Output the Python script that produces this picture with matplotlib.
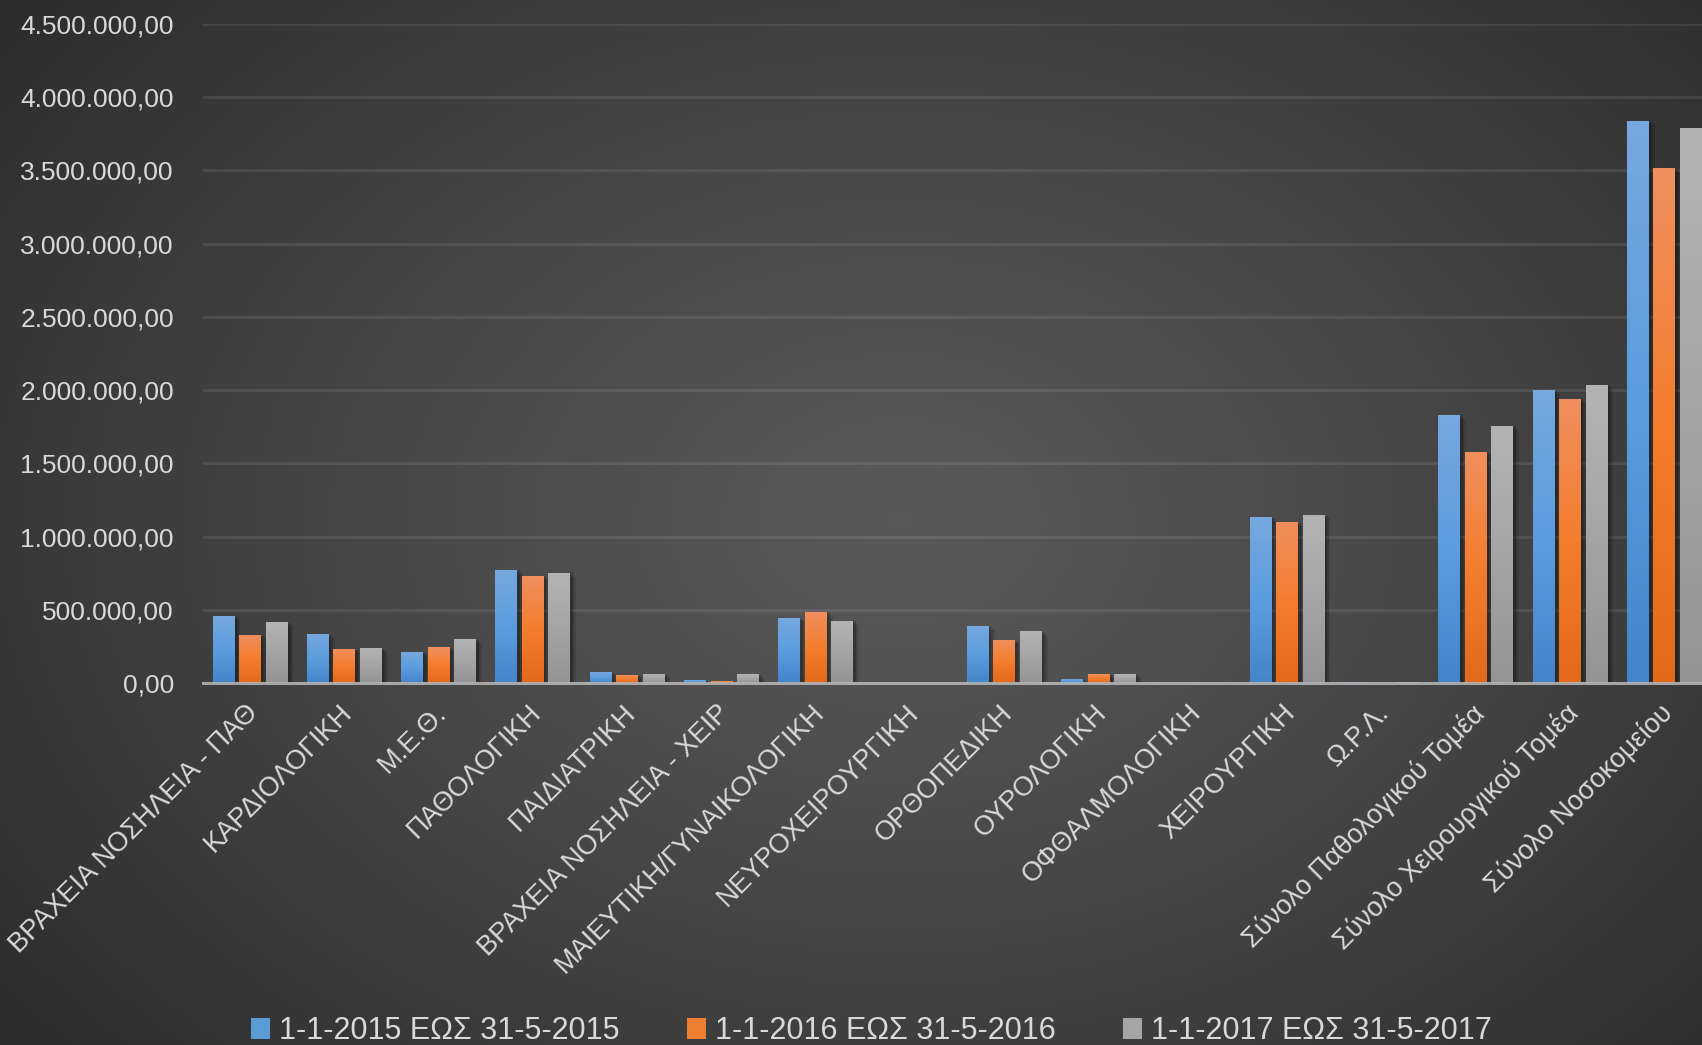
import numpy as np
import matplotlib
matplotlib.use("Agg")
from matplotlib import pyplot as plt
from matplotlib.colors import LinearSegmentedColormap
from matplotlib.patches import Patch, Rectangle
from matplotlib.ticker import FuncFormatter, MultipleLocator
from matplotlib.transforms import ScaledTranslation

categories = ["ΒΡΑΧΕΙΑ ΝΟΣΗΛΕΙΑ - ΠΑΘ", "ΚΑΡΔΙΟΛΟΓΙΚΗ", "Μ.Ε.Θ.", "ΠΑΘΟΛΟΓΙΚΗ",
              "ΠΑΙΔΙΑΤΡΙΚΗ", "ΒΡΑΧΕΙΑ ΝΟΣΗΛΕΙΑ - ΧΕΙΡ", "ΜΑΙΕΥΤΙΚΗ/ΓΥΝΑΙΚΟΛΟΓΙΚΗ",
              "ΝΕΥΡΟΧΕΙΡΟΥΡΓΙΚΗ", "ΟΡΘΟΠΕΔΙΚΗ", "ΟΥΡΟΛΟΓΙΚΗ", "ΟΦΘΑΛΜΟΛΟΓΙΚΗ",
              "ΧΕΙΡΟΥΡΓΙΚΗ", "Ω.Ρ.Λ.", "Σύνολο Παθολογικού Τομέα",
              "Σύνολο Χειρουργικού Τομέα", "Σύνολο Νοσοκομείου"]
series_names = ["1-1-2015 ΕΩΣ 31-5-2015", "1-1-2016 ΕΩΣ 31-5-2016", "1-1-2017 ΕΩΣ 31-5-2017"]
values_2015 = [454000, 331000, 208000, 769000, 71000, 16000, 440000, 0,
               386000, 23000, 0, 1129000, 6000, 1828000, 1999000, 3835000]
values_2016 = [324000, 228000, 242000, 728000, 50000, 8000, 482000, 0,
               290000, 57000, 0, 1094000, 0, 1574000, 1937000, 3513000]
values_2017 = [413000, 235000, 297000, 749000, 57000, 57000, 420000, 0,
               351000, 57000, 0, 1143000, 4000, 1752000, 2034000, 3787000]

# bottom, middle, top colours of each bar gradient
gradients = [["#4385c8", "#5b9ddf", "#77a8de"],
             ["#e3691a", "#f47d2d", "#f08f5e"],
             ["#949494", "#a5a5a5", "#b4b4b4"]]
legend_colors = ["#5b9bd5", "#ed7d31", "#a5a5a5"]
text_color = "#d9d9d9"
fonts = ["Liberation Sans Narrow", "Liberation Sans", "DejaVu Sans"]


def greek_number(v, pos=None):
    s = "{:,.2f}".format(v)
    return s.replace(",", "X").replace(".", ",").replace("X", ".")


def draw_background(fig):
    bg = fig.add_axes([0, 0, 1, 1], zorder=0)
    h, w = 523, 851
    yy, xx = np.mgrid[0:h, 0:w]
    r = np.sqrt(((xx - 450) / 500.0) ** 2 + ((yy - 260) / 360.0) ** 2)
    v = 0.35 - 0.195 * np.clip(r / 1.25, 0, 1) ** 1.15
    img = np.dstack([v, v, v])
    bg.imshow(img, extent=[0, 1, 0, 1], aspect="auto", interpolation="bicubic")
    bg.set_xlim(0, 1)
    bg.set_ylim(0, 1)
    bg.axis("off")


def gradient_bar(ax, x, width, height, colors):
    if height <= 0:
        return
    # soft shadow to the lower right
    for k, a in enumerate([0.18, 0.14, 0.10]):
        off = 0.025 + k * 0.018
        ax.add_patch(Rectangle((x - width / 2 + off, 0), width, height - 12000 * k,
                               color="black", alpha=a, lw=0, zorder=2))
    cmap = LinearSegmentedColormap.from_list("g", colors)
    grad = np.linspace(0, 1, 256).reshape(-1, 1)
    ax.imshow(grad, extent=[x - width / 2, x + width / 2, 0, height], origin="lower",
              cmap=cmap, aspect="auto", interpolation="bilinear", zorder=3)


def main():
    plt.rcParams["font.family"] = fonts
    fig = plt.figure(figsize=(17.02, 10.45), dpi=100)
    draw_background(fig)

    ax = fig.add_axes([203 / 1702, 1 - 683 / 1045, 1 - 203 / 1702, 659 / 1045], zorder=1)
    ax.set_facecolor("none")

    x = np.arange(len(categories))
    width = 0.233
    offsets = [-0.281, 0, 0.281]
    for vals, off, cols in zip([values_2015, values_2016, values_2017], offsets, gradients):
        for xi, v in zip(x, vals):
            gradient_bar(ax, xi + off, width, v, cols)

    ax.set_xlim(-0.5, 15.40)
    ax.set_ylim(0, 4500000)
    ax.yaxis.set_major_locator(MultipleLocator(500000))
    ax.yaxis.set_major_formatter(FuncFormatter(greek_number))
    ax.grid(axis="y", color="#ffffff", alpha=0.09, lw=2)
    ax.set_axisbelow(True)
    ax.axhline(0, color="#b8b8b8", lw=2.2, alpha=0.85, zorder=5, clip_on=False)
    for s in ax.spines.values():
        s.set_visible(False)

    ax.tick_params(axis="y", length=0, pad=21, labelsize=19, labelcolor=text_color)
    ax.tick_params(axis="x", length=0, pad=12, labelsize=19.5, labelcolor=text_color)
    ax.set_xticks(x)
    ax.set_xticklabels(categories, rotation=45, ha="right", va="top", rotation_mode="anchor")
    shift = ScaledTranslation(-0.05, 0, fig.dpi_scale_trans)
    for lab in ax.get_xticklabels():
        lab.set_transform(lab.get_transform() + shift)

    handles = [Patch(facecolor=c, edgecolor="none") for c in legend_colors]
    fig.legend(handles, series_names, loc="center", bbox_to_anchor=(0.512, 0.013),
               ncol=3, frameon=False, fontsize=22, labelcolor=text_color,
               handlelength=0.62, handleheight=0.7, handletextpad=0.3,
               columnspacing=2.2, borderpad=0)

    fig.savefig("out.png", dpi=100)


if __name__ == '__main__':
    main()
